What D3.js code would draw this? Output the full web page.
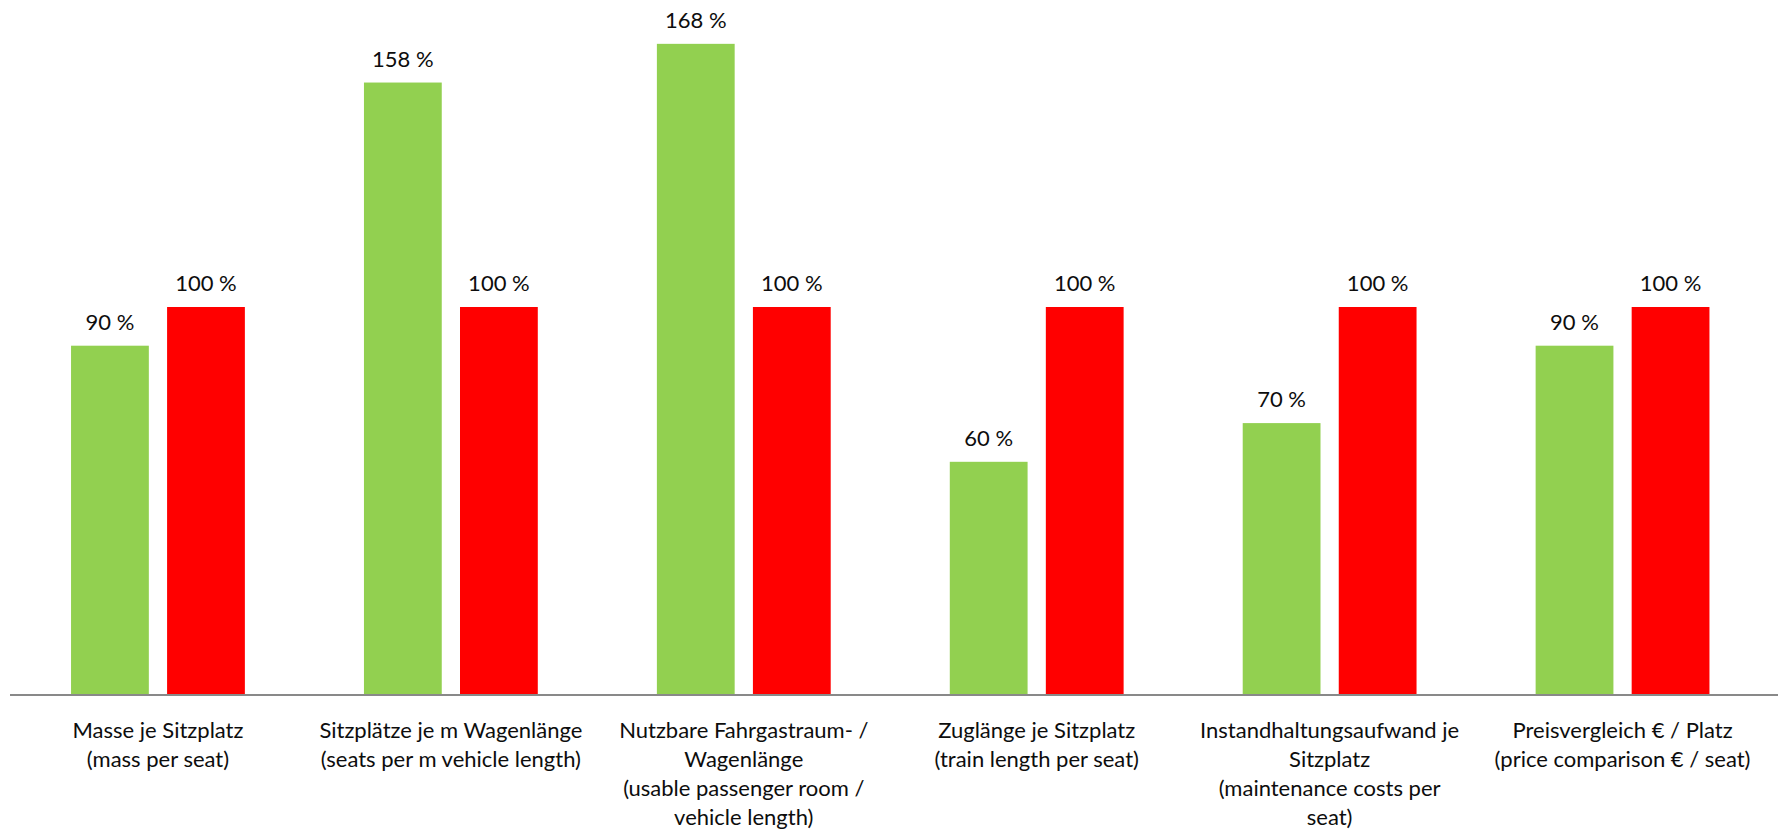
<!DOCTYPE html>
<html>
<head>
<meta charset="utf-8">
<script src="https://cdn.jsdelivr.net/npm/d3@7"></script>
<style>
  html, body { margin: 0; padding: 0; background: #ffffff; }
  svg { display: block; }
  text { font-family: Lato, "Open Sans", "Liberation Sans", sans-serif; fill: #0d0d0d; }
</style>
</head>
<body>
<svg id="chart" width="1781" height="836"></svg>
<script>
// Category labels, one entry per wrapped line
const categoryLines = [
  ["Masse je Sitzplatz", "(mass per seat)"],
  ["Sitzplätze je m Wagenlänge", "(seats per m vehicle length)"],
  ["Nutzbare Fahrgastraum- /", "Wagenlänge", "(usable passenger room /", "vehicle length)"],
  ["Zuglänge je Sitzplatz", "(train length per seat)"],
  ["Instandhaltungsaufwand je", "Sitzplatz", "(maintenance costs per", "seat)"],
  ["Preisvergleich € / Platz", "(price comparison € / seat)"]
];
const categories = ["mass", "seats", "room", "length", "maintenance", "price"];

// Relative values in percent
const newVehicle = [90, 158, 168, 60, 70, 90];
const reference = [100, 100, 100, 100, 100, 100];

const seriesKeys = ["newVehicle", "reference"];
const seriesColors = ["#92D050", "#FF0000"];
const valueSuffix = " %";

// Layout
const width = 1781, height = 836;
const bandLeft = 11.5, bandRight = 1769;
const axisLeft = 10, axisRight = 1778;
const baseline = 694;
const pxPerPercent = 3.87;

const rows = categories.map((c, i) => ({
  key: c,
  lines: categoryLines[i],
  values: [
    { series: seriesKeys[0], value: newVehicle[i], color: seriesColors[0] },
    { series: seriesKeys[1], value: reference[i], color: seriesColors[1] }
  ]
}));

const svg = d3.select("#chart");

const x0 = d3.scaleBand()
  .domain(categories)
  .range([bandLeft, bandRight])
  .padding(0);

const x1 = d3.scaleBand()
  .domain(seriesKeys)
  .range([0, x0.bandwidth()])
  .paddingInner(0.19)
  .paddingOuter(0.62);

const yMax = 180;
const y = d3.scaleLinear()
  .domain([0, yMax])
  .range([baseline, baseline - yMax * pxPerPercent]);

// Bars
const groups = svg.append("g")
  .selectAll("g.cat")
  .data(rows)
  .join("g")
  .attr("class", "cat")
  .attr("transform", d => `translate(${x0(d.key)},0)`);

groups.selectAll("rect")
  .data(d => d.values)
  .join("rect")
  .attr("x", d => x1(d.series))
  .attr("width", x1.bandwidth())
  .attr("y", d => y(d.value))
  .attr("height", d => y(0) - y(d.value))
  .attr("fill", d => d.color);

// Value labels above bars
groups.selectAll("text.value")
  .data(d => d.values)
  .join("text")
  .attr("class", "value")
  .attr("x", d => x1(d.series) + x1.bandwidth() / 2)
  .attr("y", d => y(d.value) - 16)
  .attr("text-anchor", "middle")
  .style("font-size", "22px")
  .text(d => d.value + valueSuffix);

// Category axis (no ticks), with a baseline spanning the plot area
const xAxis = d3.axisBottom(x0).tickSize(0).tickSizeOuter(0).tickFormat("");
const axisG = svg.append("g")
  .attr("transform", `translate(0,${baseline + 1})`)
  .call(xAxis);
axisG.select(".domain").remove();
axisG.append("line")
  .attr("x1", axisLeft)
  .attr("x2", axisRight)
  .attr("stroke", "#898989")
  .attr("stroke-width", 2);

// Multi-line category labels
const labels = svg.append("g")
  .selectAll("text.cat-label")
  .data(rows)
  .join("text")
  .attr("class", "cat-label")
  .attr("text-anchor", "middle")
  .style("font-size", "22px")
  .attr("transform", d => `translate(${x0(d.key) + x0.bandwidth() / 2},738)`);

labels.selectAll("tspan")
  .data(d => d.lines)
  .join("tspan")
  .attr("x", 0)
  .attr("y", (d, i) => i * 29)
  .text(d => d);
</script>
</body>
</html>
